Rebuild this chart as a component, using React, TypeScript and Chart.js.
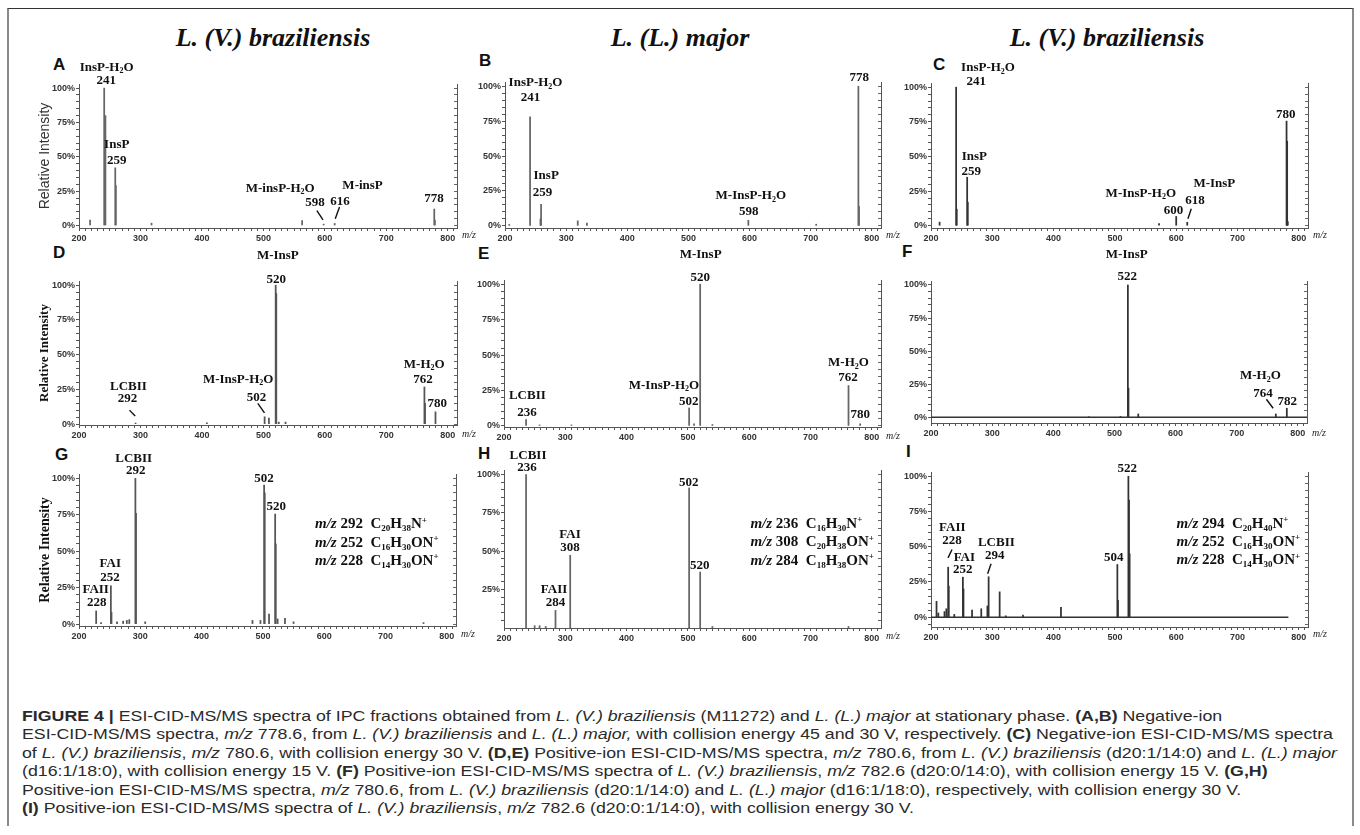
import React, { useEffect, useLayoutEffect, useRef } from "react";
import { Chart, registerables } from "chart.js";

Chart.register(...registerables);

// ---------------- axis values ----------------
const MZ_MIN = 200;
const MZ_MAX = 815;
const PCT_MAX = 103;
const yLabelTicks = [0, 25, 50, 75, 100];
const xLabelTicks = [200, 300, 400, 500, 600, 700, 800];

// ---------------- spectra (m/z, relative intensity %) ----------------
const mzA = [218, 241, 243, 259, 260, 318, 563, 598, 616, 778, 779];
const relA = [4, 100, 80, 42, 29, 1.7, 3.6, 1, 1.5, 12, 4];

const mzB = [207, 241, 258, 259, 319, 334, 598, 709, 778, 779];
const relB = [1, 78, 5, 15.5, 3.6, 2.1, 4, 1.2, 100, 14];

const mzC = [214, 241, 242, 259, 260, 572, 600, 618, 780, 781, 782];
const relC = [2.6, 100, 12, 35, 17, 1.5, 6.7, 2.5, 75.5, 61, 3];

const mzD = [292, 408, 502, 509, 520, 521, 525, 536, 762, 763, 780];
const relD = [0.8, 1, 5.3, 4.3, 100, 94, 1.5, 1.5, 26.8, 15, 8.9];

const mzE = [236, 258, 310, 502, 510, 520, 540, 762, 781];
const relE = [4.5, 0.7, 0.7, 12.7, 1.5, 100, 1, 28.5, 1.5];

const mzF = [458, 510, 522, 523, 539, 764, 782];
const relF = [0.4, 0.6, 100, 22, 2.5, 2.5, 6.8];
const baselineF = [200, 815];

const mzG = [228, 236, 252, 253, 262, 272, 278, 282, 292, 293, 308, 483, 496, 502, 503, 510, 520, 521, 524, 536, 550, 762];
const relG = [9, 1, 26.3, 8, 1.5, 2, 2.5, 3, 100, 76, 1.5, 2.5, 2.5, 95.4, 90, 6.9, 75.5, 55, 3.5, 3.9, 1.5, 1];

const mzH = [236, 250, 258, 268, 284, 308, 502, 520, 540, 762];
const relH = [100, 1.5, 1.5, 1, 11.5, 47.4, 91.3, 36.5, 1, 1];

const mzI = [209, 212, 222, 225, 228, 229, 238, 252, 253, 267, 282, 292, 294, 312, 322, 350, 412, 504, 505, 522, 523, 524];
const relI = [11.3, 3, 4, 6, 35.5, 22, 2, 28.4, 20, 5, 6, 8, 28.7, 18, 1, 1.5, 7, 37.4, 12, 100, 83, 45];
const baselineI = [200, 783];

// ---------------- peak annotations [m/z, %, text] ----------------
type Label = [number, number, string];
type Leader = [number, number, number, number];

const labelsA: Label[] = [
  [245, 115.7, "InsP-H_{2}O"], [244.5, 106, "241"], [261.4, 59.5, "InsP"], [261.4, 47.8, "259"],
  [527.3, 27.7, "M-insP-H_{2}O"], [583.8, 17, "598"], [661.4, 29.6, "M-insP"], [624.5, 18.2, "616"],
  [777.6, 20.4, "778"],
];
const leadersA: Leader[] = [[587, 10.9, 597, 4.1], [623.9, 13.4, 616.9, 4.9]];

const labelsB: Label[] = [
  [249.9, 103, "InsP-H_{2}O"], [241.7, 92.3, "241"], [267.4, 36.3, "InsP"], [261.3, 24.3, "259"],
  [602, 22, "M-InsP-H_{2}O"], [598.8, 11.2, "598"], [779.3, 106.7, "778"],
];

const labelsC: Label[] = [
  [293, 114.4, "InsP-H_{2}O"], [274, 104.8, "241"], [270.7, 50.7, "InsP"], [265.8, 39.4, "259"],
  [542.3, 24.2, "M-InsP-H_{2}O"], [595.7, 11.5, "600"], [662.2, 30.7, "M-InsP"], [630.5, 18.8, "618"],
  [778.6, 81.2, "780"],
];
const leadersC: Leader[] = [[624.6, 12.3, 619.1, 5.1]];

const labelsD: Label[] = [
  [523.5, 121.6, "M-InsP"], [520.9, 104.8, "520"], [280.4, 28, "LCBII"], [278.8, 18.9, "292"],
  [458.9, 32.9, "M-InsP-H_{2}O"], [488.7, 20.1, "502"], [761.7, 43.7, "M-H_{2}O"], [759.5, 32.6, "762"],
  [782.9, 15.6, "780"],
];
const leadersD: Leader[] = [[282.1, 10.1, 291.4, 5.8], [490.9, 14.9, 501.8, 8.1]];

const labelsE: Label[] = [
  [520.8, 121.7, "M-InsP"], [520.3, 105.2, "520"], [238.1, 22.4, "LCBII"], [237.6, 9.9, "236"],
  [461, 29.4, "M-InsP-H_{2}O"], [501.2, 17.6, "502"], [762, 45.2, "M-H_{2}O"], [761, 34.6, "762"],
  [781.2, 8.7, "780"],
];

const labelsF: Label[] = [
  [520.2, 124, "M-InsP"], [520.8, 106.8, "522"], [738.8, 32, "M-H_{2}O"], [743.2, 18.9, "764"],
  [782.5, 12.3, "782"],
];
const leadersF: Leader[] = [[748.6, 13.6, 759.6, 6.8]];

const labelsG: Label[] = [
  [289.2, 114.4, "LCBII"], [292.4, 106.2, "292"], [501.8, 100.4, "502"], [521.9, 81.2, "520"],
  [251.1, 42.3, "FAI"], [250.6, 32.5, "252"], [227.2, 24, "FAII"], [228.9, 15.3, "228"],
];
const formulasG: Label[] = [
  [585, 69.1, "*m/z* 292  C_{20}H_{38}N^{+}"],
  [585, 56.5, "*m/z* 252  C_{16}H_{30}ON^{+}"],
  [585, 44, "*m/z* 228  C_{14}H_{30}ON^{+}"],
];

const labelsH: Label[] = [
  [239.2, 113, "LCBII"], [237.5, 105, "236"], [307.8, 61.5, "FAI"], [307.8, 52.8, "308"],
  [281.6, 25.7, "FAII"], [283.9, 17, "284"], [501.4, 95.6, "502"], [519.4, 41.3, "520"],
];
const formulasH: Label[] = [
  [602, 68.7, "*m/z* 236  C_{16}H_{30}N^{+}"],
  [602, 56.5, "*m/z* 308  C_{20}H_{38}ON^{+}"],
  [602, 44.5, "*m/z* 284  C_{18}H_{38}ON^{+}"],
];

const labelsI: Label[] = [
  [520.1, 106, "522"], [498.3, 42.8, "504"], [234.8, 64.5, "FAII"], [234.3, 55.1, "228"],
  [254.4, 42.6, "FAI"], [251.6, 34.3, "252"], [306.6, 53.5, "LCBII"], [303.9, 44, "294"],
];
const leadersI: Leader[] = [[234.3, 48, 227.8, 42.1], [298, 37.9, 292.4, 30.8]];
const formulasI: Label[] = [
  [600.6, 67, "*m/z* 294  C_{20}H_{40}N^{+}"],
  [600.6, 54, "*m/z* 252  C_{16}H_{30}ON^{+}"],
  [600.6, 41, "*m/z* 228  C_{14}H_{30}ON^{+}"],
];

// ---------------- layout ----------------
// [plot left, plot right, y of 100%, y of 0%, y of x-axis line]
const geomA = [79, 456.7, 88.3, 225.7, 228];
const geomB = [504.5, 880.3, 86, 225.7, 228.3];
const geomC = [930.7, 1307.3, 86.7, 225.3, 228.3];
const geomD = [79, 456.5, 285, 424, 424.8];
const geomE = [504, 880.7, 284, 425.7, 426.7];
const geomF = [930.5, 1306.7, 285, 417.3, 423.3];
const geomG = [79, 456.3, 478.3, 624, 625.7];
const geomH = [504.3, 881, 474.3, 627.7, 628.3];
const geomI = [930.7, 1307.3, 476.7, 617.7, 626.7];

const SERIF = '"Liberation Serif", "Times New Roman", serif';
const SANS = '"Liberation Sans", Arial, sans-serif';

interface YTitle { text: string; family: string; size: number; weight: string; color: string }
interface PanelSpec {
  key: string;
  mz: number[]; rel: number[]; geom: number[]; color: string;
  labels: Label[]; leaders: Leader[]; formulas: Label[];
  baseline?: number[]; yTitle?: YTitle; mzDy: number;
}

const relTitleSans: YTitle = { text: "Relative Intensity", family: SANS, size: 14, weight: "normal", color: "#333" };
const relTitleSerif13: YTitle = { text: "Relative Intensity", family: SERIF, size: 13, weight: "bold", color: "#111" };
const relTitleSerif14: YTitle = { text: "Relative Intensity", family: SERIF, size: 14, weight: "bold", color: "#111" };

const PANELS: PanelSpec[] = [
  { key: "A", mz: mzA, rel: relA, geom: geomA, color: "#666", labels: labelsA, leaders: leadersA, formulas: [], yTitle: relTitleSans, mzDy: 7 },
  { key: "B", mz: mzB, rel: relB, geom: geomB, color: "#666", labels: labelsB, leaders: [], formulas: [], mzDy: 7 },
  { key: "C", mz: mzC, rel: relC, geom: geomC, color: "#333", labels: labelsC, leaders: leadersC, formulas: [], mzDy: 7 },
  { key: "D", mz: mzD, rel: relD, geom: geomD, color: "#555", labels: labelsD, leaders: leadersD, formulas: [], yTitle: relTitleSerif13, mzDy: 9 },
  { key: "E", mz: mzE, rel: relE, geom: geomE, color: "#666", labels: labelsE, leaders: [], formulas: [], mzDy: 9 },
  { key: "F", mz: mzF, rel: relF, geom: geomF, color: "#333", labels: labelsF, leaders: leadersF, formulas: [], baseline: baselineF, mzDy: 10 },
  { key: "G", mz: mzG, rel: relG, geom: geomG, color: "#555", labels: labelsG, leaders: [], formulas: formulasG, yTitle: relTitleSerif14, mzDy: 8 },
  { key: "H", mz: mzH, rel: relH, geom: geomH, color: "#666", labels: labelsH, leaders: [], formulas: formulasH, mzDy: 8 },
  { key: "I", mz: mzI, rel: relI, geom: geomI, color: "#333", labels: labelsI, leaders: leadersI, formulas: formulasI, baseline: baselineI, mzDy: 7 },
];

const WL = 46; // left axis box width
const WR = 30; // right axis box width
const PT = 48; // room above the plot for labels
const HB = 24; // bottom axis box height

// ---------------- rich text (sub/superscript, italic) ----------------
interface Seg { t: string; italic: boolean; mode: number; w?: number }
function parseRich(s: string): Seg[] {
  const segs: Seg[] = [];
  let italic = false;
  let buf = "";
  const push = (t: string, mode: number) => { if (t) segs.push({ t, italic, mode }); };
  let i = 0;
  while (i < s.length) {
    const c = s[i];
    if (c === "*") { push(buf, 0); buf = ""; italic = !italic; i++; continue; }
    if ((c === "_" || c === "^") && s[i + 1] === "{") {
      push(buf, 0); buf = "";
      const end = s.indexOf("}", i);
      push(s.slice(i + 2, end), c === "_" ? 1 : 2);
      i = end + 1;
      continue;
    }
    buf += c; i++;
  }
  push(buf, 0);
  return segs;
}

function drawRich(ctx: CanvasRenderingContext2D, text: string, x: number, y: number, size: number, align: string) {
  const segs = parseRich(text);
  const fontFor = (sg: Seg) => `${sg.italic ? "italic " : ""}bold ${sg.mode ? Math.round(size * 0.62) : size}px ${SERIF}`;
  let total = 0;
  segs.forEach((sg) => { ctx.font = fontFor(sg); sg.w = ctx.measureText(sg.t).width; total += sg.w; });
  let cx = align === "center" ? x - total / 2 : x;
  const base = y + size * 0.33;
  ctx.textAlign = "left";
  ctx.textBaseline = "alphabetic";
  segs.forEach((sg) => {
    ctx.font = fontFor(sg);
    const dy = sg.mode === 1 ? size * 0.2 : sg.mode === 2 ? -size * 0.38 : 0;
    ctx.fillText(sg.t, cx, base + dy);
    cx += sg.w || 0;
  });
}

function makeAnnotationPlugin(spec: PanelSpec) {
  return {
    id: "peakAnnotations",
    afterDraw(chart: any) {
      const { ctx, chartArea } = chart;
      const xs = chart.scales.x;
      const ys = chart.scales.y;
      ctx.save();
      ctx.fillStyle = "#111";
      ctx.strokeStyle = "#111";
      spec.labels.forEach(([m, p, t]) => drawRich(ctx, t, xs.getPixelForValue(m), ys.getPixelForValue(p), 13, "center"));
      ctx.lineWidth = 1.4;
      spec.leaders.forEach(([m1, p1, m2, p2]) => {
        ctx.beginPath();
        ctx.moveTo(xs.getPixelForValue(m1), ys.getPixelForValue(p1));
        ctx.lineTo(xs.getPixelForValue(m2), ys.getPixelForValue(p2));
        ctx.stroke();
      });
      spec.formulas.forEach(([m, p, t]) => drawRich(ctx, t, xs.getPixelForValue(m), ys.getPixelForValue(p), 15, "left"));
      ctx.font = `italic 10px ${SERIF}`;
      ctx.fillStyle = "#222";
      ctx.textAlign = "left";
      ctx.textBaseline = "middle";
      ctx.fillText("m/z", chartArea.right + 5, chartArea.bottom + spec.mzDy);
      ctx.restore();
    },
  };
}

function SpectrumPanel({ spec }: { spec: PanelSpec }) {
  const ref = useRef<HTMLCanvasElement | null>(null);
  const [l, r, y100, y0, axisY] = spec.geom;
  const ppp = (y0 - y100) / 100;
  const plotLeft = Math.round(l);
  const plotW = Math.round(r - l);
  const plotTop = Math.round(y100 - (PCT_MAX - 100) * ppp);
  const plotH = Math.round(axisY) - plotTop;
  const yMin = PCT_MAX - plotH / ppp;
  const W = WL + plotW + WR;
  const H = PT + plotH + HB;

  useEffect(() => {
    if (!ref.current) return;
    const tickFont = { family: SANS, size: 9, weight: "bold" as const };
    const datasets: any[] = [
      {
        type: "bar",
        data: spec.mz.map((x, i) => ({ x, y: spec.rel[i] })),
        backgroundColor: spec.color,
        borderWidth: 0,
        barThickness: 1.1,
        xAxisID: "x",
        yAxisID: "y",
        order: 1,
      },
    ];
    if (spec.baseline) {
      datasets.push({
        type: "line",
        data: spec.baseline.map((x) => ({ x, y: 0 })),
        borderColor: spec.color,
        borderWidth: 1.6,
        pointRadius: 0,
        xAxisID: "x",
        yAxisID: "y",
        order: 2,
      });
    }
    const chart = new Chart(ref.current, {
      type: "bar",
      data: { datasets },
      options: {
        animation: false,
        responsive: false,
        devicePixelRatio: 1,
        events: [],
        layout: { padding: { top: PT, left: 0, right: 0, bottom: 0 } },
        plugins: { legend: { display: false }, tooltip: { enabled: false }, title: { display: false } },
        scales: {
          x: {
            type: "linear",
            min: MZ_MIN,
            max: MZ_MAX,
            offset: false,
            grid: { drawOnChartArea: false, offset: false, tickLength: 3, color: "#555", tickColor: "#555" },
            border: { display: true, color: "#555", width: 1 },
            ticks: {
              stepSize: 10,
              autoSkip: false,
              maxRotation: 0,
              minRotation: 0,
              includeBounds: false,
              maxTicksLimit: 200,
              padding: 2,
              color: "#333",
              font: tickFont,
              callback: (v: any) => (xLabelTicks.includes(Number(v)) ? String(v) : ""),
            },
            afterFit: (s: any) => { s.height = HB; },
          },
          y: {
            type: "linear",
            position: "left",
            min: yMin,
            max: PCT_MAX,
            grid: { drawOnChartArea: false, tickLength: 3, color: "#555", tickColor: "#555" },
            border: { display: true, color: "#555", width: 1 },
            ticks: {
              stepSize: 5,
              includeBounds: false,
              maxTicksLimit: 200,
              autoSkip: false,
              padding: 1,
              color: "#333",
              font: tickFont,
              callback: (v: any) => (yLabelTicks.includes(Number(v)) ? `${v}%` : ""),
            },
            title: spec.yTitle
              ? {
                  display: true,
                  text: spec.yTitle.text,
                  color: spec.yTitle.color,
                  font: { family: spec.yTitle.family, size: spec.yTitle.size, weight: spec.yTitle.weight as any },
                }
              : { display: false },
            afterFit: (s: any) => { s.width = WL; },
          },
          yR: {
            type: "linear",
            position: "right",
            min: yMin,
            max: PCT_MAX,
            grid: { drawOnChartArea: false, tickLength: -3, color: "#666", tickColor: "#666" },
            border: { display: true, color: "#555", width: 1 },
            ticks: { display: false, stepSize: 5, includeBounds: false, maxTicksLimit: 200 },
            afterFit: (s: any) => { s.width = WR; },
          },
        },
      } as any,
      plugins: [makeAnnotationPlugin(spec)],
    });
    return () => chart.destroy();
  }, []);

  return (
    <canvas
      ref={ref}
      width={W}
      height={H}
      style={{ position: "absolute", left: plotLeft - WL, top: plotTop - PT, width: W, height: H }}
    />
  );
}

// ---------------- headings ----------------
const columnTitles: [number, string][] = [
  [273, "L. (V.) braziliensis"],
  [680, "L. (L.) major"],
  [1107, "L. (V.) braziliensis"],
];
const panelLetters: [string, number, number][] = [
  ["A", 53, 64], ["B", 479, 60], ["C", 933, 64],
  ["D", 53, 252.5], ["E", 478, 253], ["F", 902, 251.5],
  ["G", 55, 454], ["H", 478, 453.5], ["I", 906, 451.5],
];

// ---------------- caption ----------------
const CAP_LEFT = 22;
const CAP_FULL_RIGHT = 1333; // right end of the longest (second) caption line
const capRows = [716, 734.4, 752.8, 771.2, 789.6, 808];

function Caption() {
  const ref = useRef<HTMLDivElement | null>(null);
  useLayoutEffect(() => {
    const box = ref.current;
    if (!box) return;
    const lines = Array.from(box.children) as HTMLElement[];
    lines.forEach((el) => { el.style.transform = "none"; });
    const w = lines[1].getBoundingClientRect().width;
    const k = w > 0 ? (CAP_FULL_RIGHT - CAP_LEFT) / w : 1;
    lines.forEach((el) => { el.style.transform = `scaleX(${k})`; });
  }, []);
  const lineStyle = (i: number): React.CSSProperties => ({
    position: "absolute",
    left: CAP_LEFT,
    top: capRows[i] - 9,
    whiteSpace: "nowrap",
    transformOrigin: "0 0",
    font: `15px ${SANS}`,
    lineHeight: "18px",
    color: "#2a2a2a",
  });
  return (
    <div ref={ref}>
      <div style={lineStyle(0)}>
        <b>FIGURE 4 |</b> ESI-CID-MS/MS spectra of IPC fractions obtained from <i>L. (V.) braziliensis</i> (M11272) and{" "}
        <i>L. (L.) major</i> at stationary phase. <b>(A,B)</b> Negative-ion
      </div>
      <div style={lineStyle(1)}>
        ESI-CID-MS/MS spectra, <i>m/z</i> 778.6, from <i>L. (V.) braziliensis</i> and <i>L. (L.) major,</i> with collision
        energy 45 and 30 V, respectively. <b>(C)</b> Negative-ion ESI-CID-MS/MS spectra
      </div>
      <div style={lineStyle(2)}>
        of <i>L. (V.) braziliensis</i>, <i>m/z</i> 780.6, with collision energy 30 V. <b>(D,E)</b> Positive-ion
        ESI-CID-MS/MS spectra, <i>m/z</i> 780.6, from <i>L. (V.) braziliensis</i> (d20:1/14:0) and <i>L. (L.) major</i>
      </div>
      <div style={lineStyle(3)}>
        (d16:1/18:0), with collision energy 15 V. <b>(F)</b> Positive-ion ESI-CID-MS/MS spectra of{" "}
        <i>L. (V.) braziliensis</i>, <i>m/z</i> 782.6 (d20:0/14:0), with collision energy 15 V. <b>(G,H)</b>
      </div>
      <div style={lineStyle(4)}>
        Positive-ion ESI-CID-MS/MS spectra, <i>m/z</i> 780.6, from <i>L. (V.) braziliensis</i> (d20:1/14:0) and{" "}
        <i>L. (L.) major</i> (d16:1/18:0), respectively, with collision energy 30 V.
      </div>
      <div style={lineStyle(5)}>
        <b>(I)</b> Positive-ion ESI-CID-MS/MS spectra of <i>L. (V.) braziliensis</i>, <i>m/z</i> 782.6 (d20:0:1/14:0), with
        collision energy 30 V.
      </div>
    </div>
  );
}

export default function App() {
  return (
    <div style={{ position: "fixed", left: 0, top: 0, width: 1360, height: 835, background: "#fff", overflow: "hidden" }}>
      <div
        style={{
          position: "absolute",
          left: 7,
          top: 8,
          width: 1347,
          height: 818,
          boxSizing: "border-box",
          borderTop: "1px solid #333",
          borderLeft: "2px solid #8a8a8a",
          borderRight: "2px solid #8a8a8a",
        }}
      />
      {columnTitles.map(([cx, t], i) => (
        <div
          key={"t" + i}
          style={{
            position: "absolute",
            left: cx - 200,
            width: 400,
            top: 24.8,
            textAlign: "center",
            font: `italic bold 26px ${SERIF}`,
            lineHeight: "26px",
            color: "#111",
            whiteSpace: "nowrap",
          }}
        >
          {t}
        </div>
      ))}
      {panelLetters.map(([t, x, cy]) => (
        <div
          key={"l" + t}
          style={{ position: "absolute", left: x, top: cy - 8.3, font: `bold 17px ${SANS}`, lineHeight: "17px", color: "#111" }}
        >
          {t}
        </div>
      ))}
      {PANELS.map((p) => (
        <SpectrumPanel key={p.key} spec={p} />
      ))}
      <Caption />
    </div>
  );
}
